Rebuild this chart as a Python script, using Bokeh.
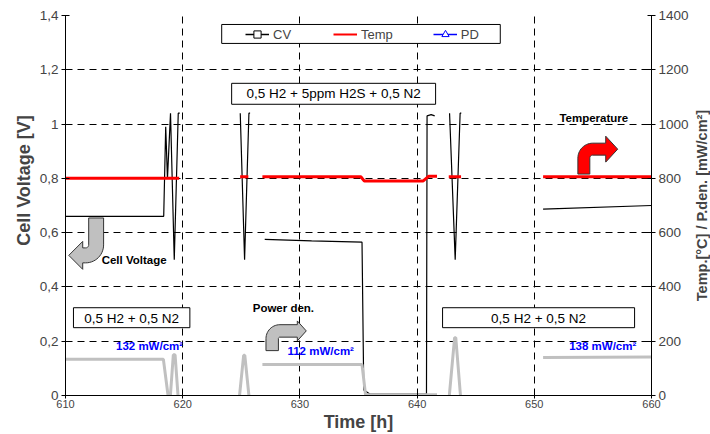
import math
from bokeh.plotting import figure
from bokeh.layouts import row
from bokeh.models import (Range1d, LinearAxis, FixedTicker, CustomJSTickFormatter,
                          Legend, LegendItem, Label)
from bokeh.embed import file_html
from bokeh.resources import INLINE

nan = float("nan")
NB = "\u00a0"

# ---------------- data ----------------
x_ticks = [610, 620, 630, 640, 650, 660]
v_ticks = [0, 0.2, 0.4, 0.6, 0.8, 1.0, 1.2, 1.4]
t_ticks = [0, 200, 400, 600, 800, 1000, 1200, 1400]
v_grid = [0.2, 0.4, 0.6, 0.8, 1.0, 1.2]
x_grid = [620, 630, 640, 650]

# Cell voltage [V]
cv_time = [610.0, 618.38, 618.55, 618.7, 618.96, 619.28, 619.62, 619.75, nan,
           624.91, 625.28, 625.65, 625.75, nan,
           627.0, 631.0, 635.3, 635.45, 636.0, 640.8, 640.85, 641.2, 641.5, nan,
           642.77, 643.25, 643.67, 643.77, nan,
           650.75, 660.0]
cv_volt = [0.66, 0.66, 0.99, 0.80, 1.04, 0.50, 1.04, 1.04, nan,
           1.04, 0.50, 1.04, 1.04, nan,
           0.575, 0.57, 0.565, 0.02, 0.005, 0.005, 1.03, 1.035, 1.03, nan,
           1.04, 0.50, 1.04, 1.04, nan,
           0.687, 0.70]

# Temperature [°C]
temp_time = [610.0, 619.7, nan, 624.9, 625.6, nan,
             626.8, 635.2, 635.5, 640.5, 641.0, 641.7, nan,
             642.7, 643.75, nan, 650.75, 660.0]
temp_val = [800, 800, nan, 806, 806, nan,
            806, 806, 790, 790, 808, 808, nan,
            806, 806, nan, 806, 806]

# Power density [mW/cm²]
pd_time = [610.0, 618.35, 618.75, 618.95, 619.2, 619.35, 619.6, nan,
           624.85, 625.2, 625.3, 625.65, nan,
           626.8, 635.3, 635.6, 641.7, nan,
           642.75, 643.2, 643.3, 643.7, nan,
           650.75, 660.0]
pd_val = [134, 134, 0, 0, 150, 150, 0, nan,
          0, 148, 148, 0, nan,
          114, 114, 3, 3, nan,
          0, 213, 213, 0, nan,
          140, 142]

pd_labels = ["132 mW/cm²", "112 mW/cm²", "138 mW/cm²"]
cond_labels = ["0,5 H2 + 0,5 N2", "0,5 H2 + 5ppm H2S + 0,5 N2", "0,5 H2 + 0,5 N2"]

# ---------------- figure ----------------
FONT = "Liberation Sans"
X0, X1, Y1 = 610.0, 660.0, 1.4
FL, FR, FT, FB = 65.0, 654.0, 15.0, 396.0   # frame in page pixels
W_MAIN, W_SIDE, H = 691, 19, 434


def px2t(px):
    return X0 + (px - FL) * (X1 - X0) / (FR - FL)


def py2v(py):
    return (FB - py) * Y1 / (FB - FT)


p = figure(width=W_MAIN, height=H, x_range=Range1d(X0, X1), y_range=Range1d(0, Y1),
           output_backend="svg", toolbar_location=None,
           min_border_left=65, min_border_right=W_MAIN - 654, min_border_top=15,
           min_border_bottom=38)
p.extra_y_ranges = {"temp": Range1d(0, 1400)}
p.outline_line_color = None
p.background_fill_color = "white"
p.border_fill_color = "white"

# grids
p.xgrid.ticker = FixedTicker(ticks=x_grid)
p.ygrid.ticker = FixedTicker(ticks=v_grid)
for g in (p.xgrid, p.ygrid):
    g.grid_line_color = "black"
    g.grid_line_dash = "7 5"
    g.grid_line_width = 1

# x axis
xa = p.xaxis[0]
xa.ticker = FixedTicker(ticks=x_ticks)
xa.axis_label = "Time [h]"
xa.axis_label_text_font = FONT
xa.axis_label_text_font_style = "bold"
xa.axis_label_text_font_size = "18px"
xa.axis_label_standoff = 1
xa.major_label_text_font = FONT
xa.major_label_text_font_size = "11px"
xa.major_label_standoff = 1
xa.major_tick_in = 4
xa.major_tick_out = 3
xa.minor_tick_line_color = None
xa.axis_line_color = "black"
xa.major_tick_line_color = "black"

# left axis
ya = p.yaxis[0]
ya.ticker = FixedTicker(ticks=v_ticks)
ya.formatter = CustomJSTickFormatter(
    code="var s = (Math.round(tick*10)/10).toString(); return s.replace('.', ',');")
ya.axis_label = NB * 10 + "Cell Voltage [V]"
ya.axis_label_text_font = FONT
ya.axis_label_text_font_style = "bold"
ya.axis_label_text_font_size = "18px"
ya.axis_label_standoff = 3
ya.major_label_text_font = FONT
ya.major_label_text_font_size = "13.5px"
ya.major_label_standoff = 3
ya.major_tick_in = 4
ya.major_tick_out = 4
ya.minor_tick_line_color = None

# right axis (its title is drawn in the narrow side strip, reading bottom-to-top)
ra = LinearAxis(y_range_name="temp", ticker=FixedTicker(ticks=t_ticks))
ra.major_label_text_font = FONT
ra.major_label_text_font_size = "13.5px"
ra.major_label_standoff = 3
ra.major_tick_in = 4
ra.major_tick_out = 4
ra.minor_tick_line_color = None
p.add_layout(ra, "right")

# ---------------- series ----------------
cv_r = p.line(cv_time, cv_volt, line_color="black", line_width=1.2)
pd_r = p.line(pd_time, pd_val, y_range_name="temp", line_color="#c0c0c0", line_width=3)
temp_r = p.line(temp_time, temp_val, y_range_name="temp", line_color="#ff0000", line_width=3)

# legend-only renderers (glyphs as shown in the reference legend)
cv_l = p.line([nan], [nan], line_color="black", line_width=1.5)
cv_m = p.scatter([nan], [nan], marker="square", size=4, fill_color="white", line_color="black")
te_l = p.line([nan], [nan], line_color="#ff0000", line_width=2)
pd_l = p.line([nan], [nan], line_color="#0000ff", line_width=1.5)
pd_m = p.scatter([nan], [nan], marker="triangle", size=5, fill_color="white", line_color="#0000ff")


# ---------------- annotation boxes ----------------
def box(l, t, r, b):
    p.quad(left=[px2t(l)], right=[px2t(r)], top=[py2v(t)], bottom=[py2v(b)],
           fill_color="white", line_color="black", line_width=1)


def text(s, px, py, size, bold=False, color="black"):
    p.add_layout(Label(x=px2t(px), y=py2v(py), text=s, text_align="center",
                       text_baseline="middle", text_font=FONT, text_font_size=size,
                       text_font_style="bold" if bold else "normal", text_color=color))


# legend frame
box(222, 24, 502, 43)

box(73, 308, 190, 328)
text(cond_labels[0], 131.5, 318.5, "13.5px")
box(232, 83, 437, 104)
text(cond_labels[1], 334.5, 93.5, "13.5px")
box(444, 308, 637, 328)
text(cond_labels[2], 540.5, 318.5, "13.5px")

text(pd_labels[0], 149.5, 346.5, "11.5px", True, "#0000ff")
text(pd_labels[1], 321.5, 351.5, "11.5px", True, "#0000ff")
text(pd_labels[2], 605.0, 346.5, "11.5px", True, "#0000ff")

text("Cell Voltage", 134, 260, "11.5px", True)
text("Power den.", 284, 308, "11.5px", True)
text("Temperature", 596, 117.5, "11.5px", True)


# ---------------- curved block arrows ----------------
def curved_arrow(x0, y0, w, Hs, R, L, hh, hl, sx, sy, fill, n=14):
    pts = [(0, 0), (0, Hs)]
    for i in range(n + 1):
        th = math.pi - (math.pi / 2) * i / n
        pts.append((R + R * math.cos(th), Hs + R * math.sin(th)))
    top = Hs + R
    c = top - w / 2
    pts += [(L, top), (L, c + hh), (L + hl, c), (L, c - hh), (L, top - w), (R, top - w)]
    r2 = R - w
    for i in range(n + 1):
        th = math.pi / 2 + (math.pi / 2) * i / n
        pts.append((R + r2 * math.cos(th), Hs + r2 * math.sin(th)))
    pts.append((w, 0))
    xs = [px2t(x0 + sx * u) for u, v in pts]
    ys = [py2v(y0 - sy * v) for u, v in pts]
    p.patch(xs, ys, fill_color=fill, line_color="#333333", line_width=1)


curved_arrow(103.3, 218, 15, 27, 18, 21, 14, 14, -1, -1, "#c0c0c0")
curved_arrow(266.5, 351, 12.5, 12, 14, 31.5, 10, 9, 1, 1, "#c0c0c0")
curved_arrow(580, 174, 12, 16, 15, 28, 13, 12, 1, 1, "#ff0000")

# ---------------- legend ----------------
legend = Legend(items=[LegendItem(label="CV", renderers=[cv_l, cv_m]),
                       LegendItem(label="Temp", renderers=[te_l]),
                       LegendItem(label="PD", renderers=[pd_l, pd_m])],
                orientation="horizontal", location=(180, 352),
                padding=0, spacing=40, glyph_width=24, glyph_height=18,
                label_standoff=4, label_text_font=FONT, label_text_font_size="13px",
                border_line_color=None, background_fill_alpha=0, margin=0)
p.add_layout(legend, "center")

# ---------------- side strip with the right axis title ----------------
p2 = figure(width=W_SIDE, height=H, x_range=Range1d(0, W_SIDE), y_range=Range1d(0, H),
            output_backend="svg", toolbar_location=None,
            x_axis_location=None, y_axis_location=None, min_border=0)
p2.grid.visible = False
p2.outline_line_color = None
p2.background_fill_color = "white"
p2.border_fill_color = "white"
p2.add_layout(Label(x=10.0, y=H - 217, text="Temp.[°C] / P.den. [mW/cm²]",
                    angle=math.pi / 2, text_align="center", text_baseline="middle",
                    text_line_height=1.0,
                    text_font=FONT, text_font_size="14.5px", text_font_style="bold"))

layout = row(p, p2, spacing=0)
open("out.html", "w").write(file_html(layout, INLINE))
